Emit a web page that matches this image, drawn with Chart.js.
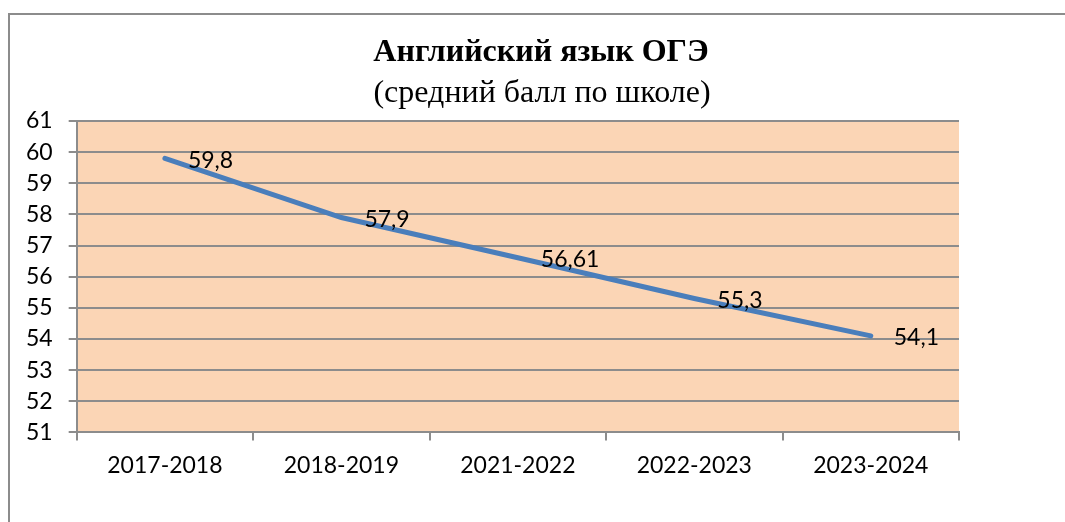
<!DOCTYPE html>
<html><head><meta charset="utf-8">
<script src="https://cdn.jsdelivr.net/npm/chart.js@4/dist/chart.umd.min.js"></script>
<style>html,body{margin:0;padding:0;background:#fff}#wrap{width:1065px;height:522px}</style>
</head><body><div id="wrap"><canvas id="c" width="1065" height="522"></canvas></div>
<script>
const categories = ["2017-2018","2018-2019","2021-2022","2022-2023","2023-2024"];
const scores = [59.8, 57.9, 56.61, 55.3, 54.1];
const scoreLabels = ["59,8","57,9","56,61","55,3","54,1"];
const titleText = "Английский язык ОГЭ";
const subtitleText = "(средний балл по школе)";
const yMin = 51, yMax = 61;

const frame = {
  id:'frame',
  beforeDraw(chart){
    const {ctx, chartArea:a} = chart;
    ctx.save();
    ctx.fillStyle = '#fff';
    ctx.fillRect(0,0,chart.width,chart.height);
    ctx.fillStyle = '#FBD5B5';
    ctx.fillRect(a.left, a.top, a.right-a.left, a.bottom-a.top);
    ctx.strokeStyle = '#8c8c8c';
    ctx.lineWidth = 2;
    ctx.beginPath();
    ctx.moveTo(9, chart.height); ctx.lineTo(9, 14); ctx.lineTo(chart.width, 14);
    ctx.stroke();
    ctx.fillStyle = '#000';
    ctx.textAlign = 'center';
    ctx.textBaseline = 'middle';
    ctx.font = 'bold 32px "Liberation Serif"';
    ctx.fillText(titleText, 541, 53);
    ctx.font = '32px "Liberation Serif"';
    ctx.fillText(subtitleText, 542, 94);
    ctx.restore();
  }
};
const labelsPlugin = {
  id:'valueLabels',
  afterDatasetsDraw(chart){
    const {ctx} = chart;
    const meta = chart.getDatasetMeta(0);
    ctx.save();
    ctx.font = '23px Lato';
    ctx.fillStyle = '#000';
    ctx.textAlign = 'left';
    ctx.textBaseline = 'middle';
    meta.data.forEach((p,i)=>{
      ctx.fillText(scoreLabels[i], p.x + 23, p.y + 2);
    });
    ctx.restore();
  }
};

new Chart(document.getElementById('c'), {
  type:'line',
  data:{labels:categories, datasets:[{data:scores, borderColor:'#4A7EBB', borderWidth:5, pointRadius:0, tension:0, borderCapStyle:'round', fill:false}]},
  options:{
    responsive:false, animation:false,
    layout:{padding:{left:10,right:106,top:121,bottom:32}},
    plugins:{legend:{display:false}, tooltip:{enabled:false}},
    scales:{
      x:{offset:true,
         grid:{offset:true, drawOnChartArea:false, drawTicks:true, tickLength:8, color:'#8c8c8c', lineWidth:2},
         border:{display:true, color:'#8c8c8c', width:2},
         ticks:{color:'#000', font:{family:'Lato', size:23}, padding:11, maxRotation:0}},
      y:{min:yMin, max:yMax,
         grid:{drawOnChartArea:true, drawTicks:true, tickLength:8, color:'#8c8c8c', lineWidth:2},
         border:{display:true, color:'#8c8c8c', width:2},
         ticks:{stepSize:1, autoSkip:false, color:'#000', font:{family:'Lato', size:23}, padding:16}}
    }
  },
  plugins:[frame, labelsPlugin]
});
</script></body></html>
